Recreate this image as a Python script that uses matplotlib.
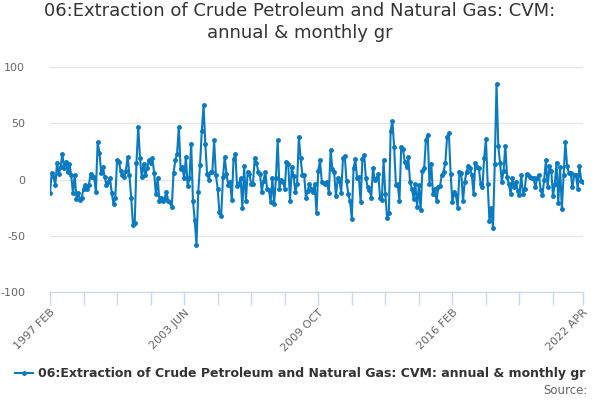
import matplotlib
matplotlib.use("Agg")
import matplotlib.pyplot as plt
import pandas as pd

title = "06:Extraction of Crude Petroleum and Natural Gas: CVM:\nannual & monthly gr"
series_name = "06:Extraction of Crude Petroleum and Natural Gas: CVM: annual & monthly gr"
start_month = "1997-02"

seg_1997 = [-12, 6, 2, -5, 15, 5, 11, 23, 10, 16,
            7, 14, 4, -12, 4, -17, -12, -18, -16, -8,
            -5, -8, -5, 5, 2, 2, -11, 33, 24, 6,
            11, 2, -5, -2, 1, -12, -22, -16, 17, 16,
            8, 4, 2, 8, 20, 4, -16, -40, -39, 15, 47]
seg_2001 = [19, 2, 14, 4, 10, 17, 15, 19, 6, -13,
            1, -19, -16, -19, -16, -11, -19, -20, -24, 6,
            17, 23, 47, 9, 11, 1, 20, -6, 1, 32,
            -19, -36, -58, -11, 13, 43, 66, 32, 5, 0,
            7, 7, 35, 4, -8, -29, -32, 2, 20, 5, -5, -2, -18]
seg_2005 = [18, 23, -6, -4, 1, -25, 12, -19, 7, 5,
            -4, -4, 19, 15, 7, 5, -11, -1, 7, -8,
            -9, -20, 1, -22, 1, 35, -8, 0, -2, -8,
            16, 14, -19, 11, 3, -11, -4, 38, 19, 4,
            4, -16, -10, -4, -8, -11, -4, -30, 8, 17, -2]
seg_2009 = [-3, -4, -2, -12, 26, 9, 7, -15, 1, -1,
            -12, 19, 21, -1, -13, -19, -35, 10, 18, 1,
            2, -20, 18, 22, 1, -7, -9, -16, 10, 0,
            1, 5, -16, -18, 17, -13, -34, -30, 43, 52,
            29, -5, -4, -19, 29, 27, 16, 11, 20, -2, -8]
seg_2014 = [-17, -4, -24, -5, -27, 8, 10, 35, 40,
            -4, 14, -13, -8, -19, -7, -6, 4, 7, 15, 38, 41,
            5, -20, -11, -14, -25, 7, 6, -19, -2, 7,
            12, 10, 4, -13, 15, 11, 10, -4, -7, 19,
            36, -4, -37, -25, -43, 14, 85]
seg_2018 = [30, 15, -2, 8, 30, 2, -4, -13, 1, -7,
            -2, -10, -14, 4, -13, -8, 5, 4, 2, 1,
            1, -7, 1, 4, -9, -14, 0, 17, -7, 12,
            8, -15, -4, 15, -21, 11, -26, 4, 33,
            12, 6, 6, -7, 4, 4, -8, 12, -1, -2]

values = seg_1997 + seg_2001 + seg_2005 + seg_2009 + seg_2014 + seg_2018
periods = pd.period_range(start=start_month, periods=len(values), freq="M")
x = list(range(len(values)))

y_ticks = [-100, -50, 0, 50, 100]
label_step = 76
minor_step = 19

fig = plt.figure(figsize=(6, 4), dpi=100)
ax = fig.add_axes([50/600, 108/400, 533/600, 225/400])

line_color = "#0a7bc1"
ax.plot(x, values, color=line_color, linewidth=1.5, marker="o", markersize=2.5,
        label=series_name)

ax.set_ylim(-100, 100)
ax.set_xlim(0, len(values) - 1)
ax.set_yticks(y_ticks)
ax.set_yticklabels([str(v) for v in y_ticks], color="#666666", fontsize=8)
ax.grid(axis="y", color="#e6e6e6", linewidth=1)
ax.set_axisbelow(True)
for s in ["top", "right", "left"]:
    ax.spines[s].set_visible(False)
ax.spines["bottom"].set_color("#ccd6eb")
ax.tick_params(axis="y", length=0, pad=18)

last = len(values) - 1
minor = list(range(0, last, minor_step)) + [last]
major = list(range(0, last, label_step)) + [last]
ax.set_xticks(minor)
labels = []
for m in minor:
    if m in major:
        p = periods[m]
        labels.append(f"{p.year} {p.strftime('%b').upper()}")
    else:
        labels.append("")
ax.set_xticklabels(labels, rotation=45, ha="right", va="top",
                   rotation_mode="anchor", color="#666666", fontsize=8)
ax.tick_params(axis="x", length=9, color="#ccd6eb", width=1, pad=2)

fig.text(0.5, 0.945, title, ha="center", va="center", fontsize=13,
         color="#333333", linespacing=1.3)

leg = fig.legend(loc="center", bbox_to_anchor=(0.5, 0.065), frameon=False,
                 prop={"weight": "bold", "size": 9}, handlelength=1.4,
                 handletextpad=0.4, labelcolor="#333333")
fig.text(0.98, 0.025, "Source:", ha="right", va="center", fontsize=8.5,
         color="#666666")

fig.savefig("out.png", dpi=100)
